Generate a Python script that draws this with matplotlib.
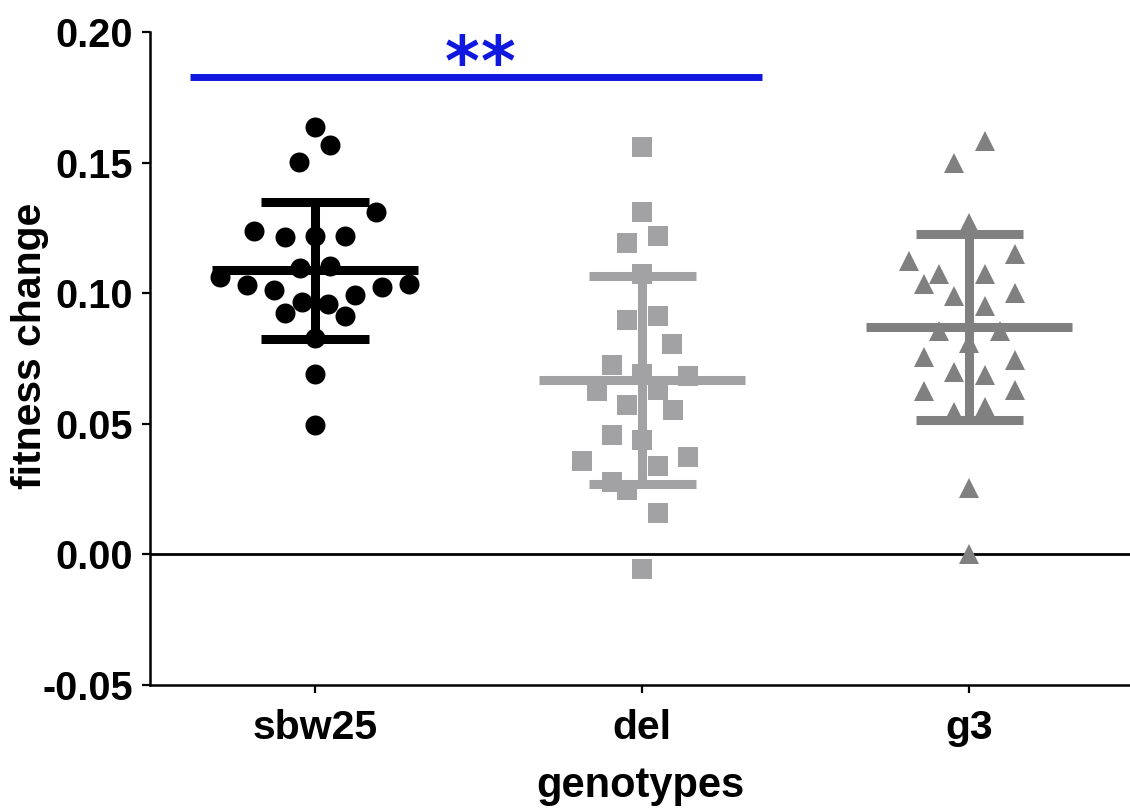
import matplotlib.pyplot as plt
import numpy as np

genotypes = ["sbw25", "del", "g3"]

sbw25_vals = [0.1637, 0.1567, 0.1501, 0.1312, 0.1238, 0.1216, 0.1218, 0.1218,
              0.1095, 0.1105, 0.1063, 0.1033, 0.1014, 0.0992, 0.1022, 0.1037,
              0.0967, 0.0960, 0.0925, 0.0912, 0.0830, 0.0690, 0.0494]
sbw25_jit = [0.0, 0.046, -0.049, 0.187, -0.187, -0.092, 0.0, 0.092,
             -0.046, 0.046, -0.29, -0.208, -0.125, 0.122, 0.205, 0.287,
             -0.04, 0.04, -0.092, 0.092, 0.0, 0.0, 0.0]

del_vals = [0.1558, 0.1312, 0.1218, 0.1194, 0.1075, 0.0897, 0.0913, 0.0807,
            0.0724, 0.0692, 0.0683, 0.0626, 0.0628, 0.0571, 0.0554, 0.0459,
            0.0437, 0.0356, 0.0373, 0.0338, 0.0277, 0.0245, 0.0158, -0.0055]
del_jit = [0.0, 0.0, 0.047, -0.046, 0.0, -0.046, 0.047, 0.092,
           -0.092, 0.0, 0.139, -0.138, 0.047, -0.046, 0.093, -0.092,
           0.0, -0.185, 0.139, 0.047, -0.092, -0.046, 0.047, 0.0]

g3_vals = [0.1584, 0.1497, 0.1270, 0.1152, 0.1123, 0.1072, 0.1072, 0.1037,
           0.1001, 0.0990, 0.0950, 0.0856, 0.0856, 0.0810, 0.0754, 0.0746,
           0.0699, 0.0686, 0.0626, 0.0631, 0.0545, 0.0564, 0.0254, 0.0003]
g3_jit = [0.048, -0.046, 0.0, 0.14, -0.184, -0.092, 0.048, -0.138,
          0.14, -0.046, 0.048, -0.092, 0.094, 0.0, -0.138, 0.14,
          -0.046, 0.048, -0.138, 0.14, -0.046, 0.048, 0.0, 0.0]

# mean and SD
means = [0.1088, 0.0667, 0.0871]
sds = [0.0263, 0.0397, 0.0355]

sig_pair = (0.618, 2.367)
sig_y = 0.1828
sig_text = "**"

colors = ["black", "#a2a2a5", "#808080"]
markers = ["o", "s", "^"]
msizes = [14.4, 14.8, 14.4]

plt.rcParams['font.family'] = ['Liberation Sans', 'DejaVu Sans']
plt.rcParams['font.weight'] = 'bold'

fig = plt.figure(figsize=(11.3, 8.09), dpi=100)
ax = fig.add_axes([0.1327, 0.1533, 0.8673, 0.8071])

all_vals = [sbw25_vals, del_vals, g3_vals]
all_jit = [sbw25_jit, del_jit, g3_jit]

for i, (vals, jit) in enumerate(zip(all_vals, all_jit)):
    xpos = i + 1 + np.array(jit)
    ax.plot(xpos, vals, linestyle="none", marker=markers[i],
            markersize=msizes[i], color=colors[i], markeredgewidth=0, zorder=3)

    m = means[i]
    s = sds[i]
    lw = 6.5
    ax.plot([i + 1 - 0.315, i + 1 + 0.315], [m, m], color=colors[i], lw=lw,
            solid_capstyle="butt", zorder=4)
    ax.plot([i + 1, i + 1], [m - s, m + s], color=colors[i], lw=lw,
            solid_capstyle="butt", zorder=4)
    for yy in (m - s, m + s):
        ax.plot([i + 1 - 0.164, i + 1 + 0.164], [yy, yy], color=colors[i],
                lw=lw, solid_capstyle="butt", zorder=4)

ax.axhline(0, color="black", lw=2, zorder=2)

# significance bar
ax.plot(list(sig_pair), [sig_y, sig_y], color="#1018e0", lw=5,
        solid_capstyle="butt", clip_on=False)
star_x = 1.505
for k, ch in enumerate(sig_text):
    ax.text(star_x + (k - 0.5) * 0.11, 0.187, ch, color="#1018e0", fontsize=48,
            family="DejaVu Sans", fontweight="bold", ha="center", va="center")

ax.set_xlim(0.4956, 3.491)
ax.set_ylim(-0.05, 0.20)
ax.set_yticks([-0.05, 0.0, 0.05, 0.10, 0.15, 0.20])
ax.set_yticklabels(["-0.05", "0.00", "0.05", "0.10", "0.15", "0.20"])
ax.set_xticks([1, 2, 3])
ax.set_xticklabels(genotypes)

for sp in ["top", "right"]:
    ax.spines[sp].set_visible(False)
for sp in ["left", "bottom"]:
    ax.spines[sp].set_linewidth(1.8)

ax.tick_params(axis="y", labelsize=28.5, width=1.6, length=6, pad=6)
ax.tick_params(axis="x", labelsize=29.5, width=1.6, length=6, pad=11)

ax.set_ylabel("fitness change", fontsize=29.5, fontweight="bold",
              va="center")
ax.yaxis.set_label_coords(-0.1224, 0.52)
ax.set_xlabel("genotypes", fontsize=30, fontweight="bold", labelpad=14)

fig.savefig("out.png", dpi=100)
